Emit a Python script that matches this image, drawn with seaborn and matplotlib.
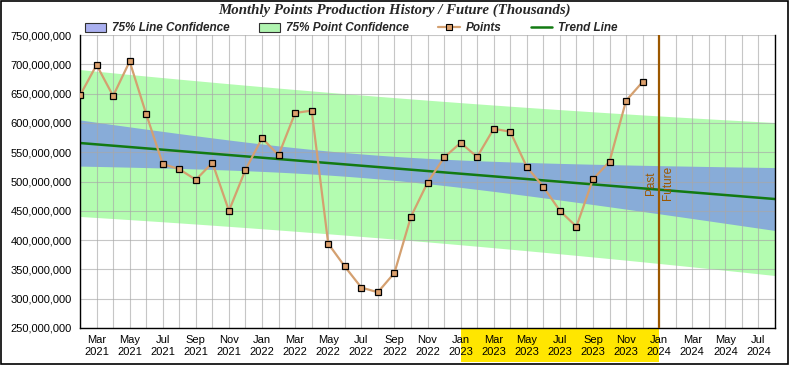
# Monthly points production: history with trend line and 75% confidence bands
import numpy as np
import pandas as pd
import matplotlib.pyplot as plt
import seaborn as sns
from matplotlib.patches import Patch, Rectangle
from matplotlib.lines import Line2D
from matplotlib.ticker import FuncFormatter

# Monthly points (Feb 2021 .. Dec 2023), in millions
points = [647, 699, 646, 705, 615, 530, 521, 503, 532, 450, 520, 574,
          545, 617, 621, 394, 355, 319, 311, 344, 440, 498, 541, 566,
          542, 590, 585, 525, 491, 450, 423, 504, 534, 638, 670]

# x axis runs month by month from Feb 2021 (0) to Aug 2024 (42)
n_months = 43
split_month = 35          # Jan 2024: past / future
highlight = (23, 35)      # Jan 2023 .. Jan 2024 labels
tick_pos = list(range(1, 43, 2))
tick_labels = ["Mar\n2021", "May\n2021", "Jul\n2021", "Sep\n2021", "Nov\n2021",
               "Jan\n2022", "Mar\n2022", "May\n2022", "Jul\n2022", "Sep\n2022", "Nov\n2022",
               "Jan\n2023", "Mar\n2023", "May\n2023", "Jul\n2023", "Sep\n2023", "Nov\n2023",
               "Jan\n2024", "Mar\n2024", "May\n2024", "Jul\n2024"]
T75 = 1.164  # two-sided 75% t value, 33 dof

df = pd.DataFrame({"month": np.arange(len(points)), "points": np.array(points) * 1e6})

# Linear trend + confidence / prediction bands
x = df["month"].values
y = df["points"].values
n = len(x)
slope, intercept = np.polyfit(x, y, 1)
resid = y - (slope * x + intercept)
s = np.sqrt((resid ** 2).sum() / (n - 2))
sxx = ((x - x.mean()) ** 2).sum()
xf = np.linspace(0, n_months - 1, 400)
yf = slope * xf + intercept
line_hw = T75 * s * np.sqrt(1 / n + (xf - x.mean()) ** 2 / sxx)
point_hw = T75 * s * np.sqrt(1 + 1 / n + (xf - x.mean()) ** 2 / sxx)

sns.set_style("white")
plt.rcParams["font.family"] = ["Liberation Sans", "DejaVu Sans"]

fig, ax = plt.subplots(figsize=(7.9, 3.65), dpi=100)
fig.subplots_adjust(left=0.1013, right=0.981, top=0.904, bottom=0.1014)

green = "#b3fcb0"
blue = "#88acd8"
ax.fill_between(xf, yf - point_hw, yf + point_hw, color=green, lw=0, zorder=0.5)
ax.fill_between(xf, yf - line_hw, yf + line_hw, color=blue, lw=0, zorder=0.6)
ax.plot(xf, yf, color="#127a12", lw=1.8, zorder=2)

sns.lineplot(data=df, x="month", y="points", ax=ax, color="#d4a070", lw=1.6,
             marker="s", markersize=5, markerfacecolor="#dca06c",
             markeredgecolor="black", markeredgewidth=0.9, zorder=3)

# past / future split
ax.axvline(split_month, color="#9c5800", lw=1.6, zorder=4)
mid = 497e6
ax.text(split_month - 0.15, mid, "Past", rotation=90, ha="right", va="center",
        color="#9c5800", fontsize=8.5)
ax.text(split_month + 0.15, mid, "Future", rotation=90, ha="left", va="center",
        color="#9c5800", fontsize=8.5)

# yellow highlight behind the 2023 labels
ax.axvspan(highlight[0], highlight[1], ymin=-0.116, ymax=-0.004, color="#ffe600",
           lw=0, clip_on=False, zorder=0)

ax.set_xlim(0, n_months - 1)
ax.set_ylim(250e6, 750e6)
ax.set_yticks(np.arange(250e6, 751e6, 50e6))
ax.yaxis.set_major_formatter(FuncFormatter(lambda v, p: f"{v:,.0f}"))
ax.set_xticks(tick_pos)
ax.set_xticklabels(tick_labels)
ax.set_xticks(range(0, n_months, 2), minor=True)
ax.tick_params(axis="both", which="both", direction="out", length=3, width=0.8,
               labelsize=8, colors="black", pad=2)
ax.tick_params(axis="y", length=4)
ax.set_xlabel("")
ax.set_ylabel("")

ax.set_axisbelow("line")
ax.grid(True, which="both", axis="x", color="#a8a8a8", lw=0.8, alpha=0.65)
ax.grid(True, which="major", axis="y", color="#a8a8a8", lw=0.8, alpha=0.65)
for side in ["left", "bottom", "right"]:
    ax.spines[side].set_color("black")
    ax.spines[side].set_linewidth(1)
ax.spines["top"].set_visible(False)

fig.suptitle("Monthly Points Production History / Future (Thousands)", x=0.5, y=0.99,
             fontsize=10.7, fontweight="bold", fontstyle="italic",
             family="Liberation Serif")

handles = [
    Patch(facecolor="#aab0f0", edgecolor="#303030", lw=0.8),
    Patch(facecolor="#b0f4b0", edgecolor="#303030", lw=0.8),
    Line2D([], [], color="#d4a070", lw=1.6, marker="s", markersize=4.5,
           markerfacecolor="#dca06c", markeredgecolor="black", markeredgewidth=0.8),
    Line2D([], [], color="#127a12", lw=1.8),
]
labels = ["75% Line Confidence", "75% Point Confidence", "Points", "Trend Line"]
fig.legend(handles, labels, loc="center left", bbox_to_anchor=(0.107, 0.922), ncol=4,
           frameon=False, prop={"weight": "bold", "style": "italic", "size": 8.5},
           handlelength=1.8, handleheight=0.8, handletextpad=0.5, columnspacing=2.5,
           borderaxespad=0, borderpad=0)

fig.patches.append(Rectangle((0.001, 0.002), 0.997, 0.996, transform=fig.transFigure,
                             fill=False, edgecolor="black", lw=1.2))

fig.savefig("out.png", dpi=100)
